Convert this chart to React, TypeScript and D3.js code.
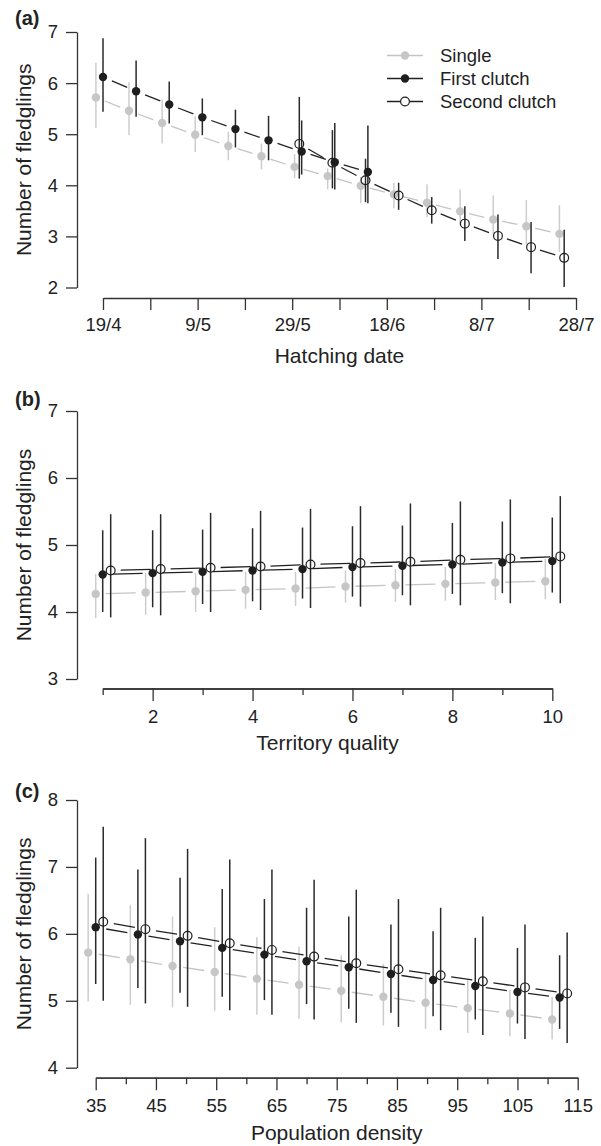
import React, { useRef, useEffect } from 'react'
import * as d3 from 'd3'

// ---- (a) hatching date: x = days after 19 April ----
const hatchTickStart = Date.UTC(2009, 3, 19)
const hatchTickEnd = Date.UTC(2009, 6, 28)

const aSingleDay = [-1.5, 5.5, 12.5, 19.5, 26.5, 33.5, 40.5, 47.5, 54.5, 61.5, 68.5, 75.5, 82.5, 89.5, 96.5]
const aSingleMean = [5.72, 5.46, 5.22, 4.99, 4.77, 4.57, 4.36, 4.18, 3.99, 3.82, 3.66, 3.49, 3.33, 3.2, 3.05]
const aSingleLo = [5.12, 4.98, 4.82, 4.65, 4.49, 4.31, 4.14, 3.92, 3.65, 3.55, 3.38, 3.22, 3.05, 2.85, 2.7]
const aSingleHi = [6.4, 6.02, 5.68, 5.35, 5.05, 4.82, 4.61, 4.33, 4.16, 4.05, 4.02, 3.92, 3.8, 3.71, 3.61]

const aFirstDay = [0, 7, 14, 21, 28, 35, 42, 49, 56]
const aFirstMean = [6.12, 5.84, 5.58, 5.33, 5.1, 4.88, 4.66, 4.45, 4.26]
const aFirstLo = [5.44, 5.34, 5.21, 4.98, 4.74, 4.49, 4.21, 3.92, 3.65]
const aFirstHi = [6.88, 6.44, 6.03, 5.7, 5.48, 5.36, 5.27, 5.22, 5.17]

const aSecondDay = [41.5, 48.5, 55.5, 62.5, 69.5, 76.5, 83.5, 90.5, 97.5]
const aSecondMean = [4.81, 4.44, 4.1, 3.8, 3.51, 3.25, 3.01, 2.79, 2.58]
const aSecondLo = [4.13, 3.94, 3.67, 3.52, 3.25, 2.91, 2.56, 2.28, 2.01]
const aSecondHi = [5.73, 5.08, 4.52, 4.05, 3.77, 3.59, 3.43, 3.28, 3.13]

// ---- (b) territory quality ----
const bSingleX = [0.86, 1.86, 2.86, 3.86, 4.86, 5.86, 6.86, 7.86, 8.86, 9.86]
const bSingleMean = [4.27, 4.29, 4.31, 4.33, 4.35, 4.38, 4.4, 4.42, 4.44, 4.46]
const bSingleLo = [3.91, 3.96, 4.0, 4.05, 4.09, 4.14, 4.15, 4.17, 4.18, 4.19]
const bSingleHi = [4.57, 4.58, 4.58, 4.6, 4.6, 4.62, 4.64, 4.67, 4.73, 4.79]

const bFirstX = [1, 2, 3, 4, 5, 6, 7, 8, 9, 10]
const bFirstMean = [4.56, 4.58, 4.6, 4.62, 4.64, 4.67, 4.69, 4.71, 4.74, 4.76]
const bFirstLo = [4.0, 4.07, 4.12, 4.16, 4.2, 4.23, 4.25, 4.27, 4.28, 4.29]
const bFirstHi = [5.22, 5.22, 5.23, 5.25, 5.26, 5.28, 5.29, 5.33, 5.35, 5.41]

const bSecondX = [1.16, 2.16, 3.16, 4.16, 5.16, 6.16, 7.16, 8.16, 9.16, 10.16]
const bSecondMean = [4.62, 4.64, 4.66, 4.68, 4.71, 4.73, 4.75, 4.78, 4.8, 4.83]
const bSecondLo = [3.92, 3.95, 4.0, 4.03, 4.06, 4.08, 4.1, 4.1, 4.13, 4.13]
const bSecondHi = [5.46, 5.46, 5.48, 5.51, 5.54, 5.58, 5.62, 5.65, 5.68, 5.73]

// ---- (c) population density ----
const cSingleX = [33.75, 40.75, 47.75, 54.75, 61.75, 68.75, 75.75, 82.75, 89.75, 96.75, 103.75, 110.75]
const cSingleMean = [5.72, 5.62, 5.52, 5.43, 5.33, 5.24, 5.15, 5.06, 4.97, 4.89, 4.81, 4.72]
const cSingleLo = [4.99, 4.94, 4.9, 4.85, 4.79, 4.73, 4.68, 4.63, 4.58, 4.52, 4.47, 4.42]
const cSingleHi = [6.6, 6.43, 6.26, 6.1, 5.95, 5.81, 5.68, 5.55, 5.43, 5.31, 5.16, 5.06]

const cFirstX = [35, 42, 49, 56, 63, 70, 77, 84, 91, 98, 105, 112]
const cFirstMean = [6.1, 5.99, 5.89, 5.79, 5.69, 5.59, 5.5, 5.4, 5.31, 5.22, 5.13, 5.05]
const cFirstLo = [5.25, 5.19, 5.12, 5.06, 5.01, 4.95, 4.88, 4.82, 4.77, 4.72, 4.66, 4.58]
const cFirstHi = [7.14, 6.96, 6.84, 6.67, 6.52, 6.39, 6.26, 6.14, 6.04, 5.94, 5.79, 5.68]

const cSecondX = [36.25, 43.25, 50.25, 57.25, 64.25, 71.25, 78.25, 85.25, 92.25, 99.25, 106.25, 113.25]
const cSecondMean = [6.18, 6.07, 5.97, 5.86, 5.76, 5.66, 5.56, 5.47, 5.38, 5.29, 5.2, 5.11]
const cSecondLo = [5.0, 4.96, 4.91, 4.86, 4.79, 4.72, 4.67, 4.61, 4.56, 4.49, 4.43, 4.37]
const cSecondHi = [7.6, 7.43, 7.27, 7.11, 6.96, 6.81, 6.66, 6.52, 6.39, 6.26, 6.14, 6.02]

const legendLabels = ['Single', 'First clutch', 'Second clutch']
const yTitle = 'Number of fledglings'

const FONT = '"Liberation Sans", Arial, Helvetica, sans-serif'
const INK = '#1e1e1e'
const AXIS = '#333333'
const TEXT = '#222222'
const GREY_PT = '#c6c6c6'
const GREY_BAR = '#cdcdcd'
const GREY_LINE = '#c4c4c4'
const TICK_FS = 18.5
const TITLE_FS = 21

function styleAxis(sel) {
  sel.attr('font-size', TICK_FS).attr('font-family', FONT)
  sel.select('.domain').attr('stroke', AXIS).attr('stroke-width', 1.3)
  sel.selectAll('.tick line').attr('stroke', AXIS).attr('stroke-width', 1.3)
  sel.selectAll('.tick text').attr('fill', TEXT)
}

function drawSeries(g, s, x, y, dash) {
  const pts = s.x.map((v, i) => ({
    x: x(v),
    m: y(s.mean[i]),
    lo: y(s.lo[i]),
    hi: y(s.hi[i])
  }))
  const single = s.kind === 'single'

  g.append('g')
    .selectAll('line')
    .data(pts)
    .join('line')
    .attr('x1', d => d.x)
    .attr('x2', d => d.x)
    .attr('y1', d => d.lo)
    .attr('y2', d => d.hi)
    .attr('stroke', single ? GREY_BAR : '#2a2a2a')
    .attr('stroke-width', 1.5)

  // one dash between each pair of neighbouring points
  g.append('g')
    .selectAll('path')
    .data(d3.pairs(pts))
    .join('path')
    .attr('d', ([a, b]) => `M${a.x},${a.m}L${b.x},${b.m}`)
    .attr('pathLength', 100)
    .attr('stroke-dasharray', dash)
    .attr('fill', 'none')
    .attr('stroke', single ? GREY_LINE : '#222')
    .attr('stroke-width', 1.3)

  g.append('g')
    .selectAll('circle')
    .data(pts)
    .join('circle')
    .attr('cx', d => d.x)
    .attr('cy', d => d.m)
    .attr('r', s.kind === 'second' ? 4.4 : 4.2)
    .attr('fill', s.kind === 'second' ? 'none' : single ? GREY_PT : INK)
    .attr('stroke', s.kind === 'second' ? INK : 'none')
    .attr('stroke-width', 1.2)
}

function drawPanel(svg, p) {
  const g = svg.append('g')

  g.append('g')
    .attr('transform', `translate(${p.axisX},0)`)
    .call(
      d3
        .axisLeft(p.y)
        .tickValues(p.yTicks)
        .tickFormat(d3.format('d'))
        .tickSize(11)
        .tickPadding(8)
        .tickSizeOuter(0)
    )
    .call(styleAxis)

  if (p.xMinor) {
    g.append('g')
      .attr('transform', `translate(0,${p.axisY})`)
      .call(d3.axisBottom(p.x).tickValues(p.xMinor).tickSize(6.5).tickFormat(() => '').tickSizeOuter(0))
      .call(styleAxis)
  }
  g.append('g')
    .attr('transform', `translate(0,${p.axisY})`)
    .call(
      d3
        .axisBottom(p.x)
        .tickValues(p.xTicks)
        .tickSize(p.majorTick)
        .tickPadding(p.pad)
        .tickFormat(p.fmt)
        .tickSizeOuter(0)
    )
    .call(styleAxis)

  p.series.forEach(s => drawSeries(g, s, p.xv, p.y, p.dash))

  g.append('text')
    .attr('x', 15)
    .attr('y', p.tagY)
    .attr('font-family', FONT)
    .attr('font-weight', 'bold')
    .attr('font-size', 20)
    .attr('fill', TEXT)
    .text(p.tag)

  const [y0, y1] = p.y.range()
  g.append('text')
    .attr('transform', `translate(31,${(y0 + y1) / 2}) rotate(-90)`)
    .attr('text-anchor', 'middle')
    .attr('font-family', FONT)
    .attr('font-size', TITLE_FS)
    .attr('fill', TEXT)
    .text(yTitle)

  const [x0, x1] = p.x.range()
  g.append('text')
    .attr('x', (x0 + x1) / 2)
    .attr('y', p.titleY)
    .attr('text-anchor', 'middle')
    .attr('font-family', FONT)
    .attr('font-size', TITLE_FS)
    .attr('fill', TEXT)
    .text(p.title)
}

function drawLegend(svg) {
  const rows = [
    { kind: 'single', y: 55.5 },
    { kind: 'first', y: 78.5 },
    { kind: 'second', y: 101.5 }
  ]
  const lg = svg.append('g')
  rows.forEach((r, i) => {
    const col = r.kind === 'single' ? GREY_PT : INK
    lg.append('line')
      .attr('x1', 387)
      .attr('x2', 423)
      .attr('y1', r.y)
      .attr('y2', r.y)
      .attr('stroke', r.kind === 'single' ? GREY_LINE : '#222')
      .attr('stroke-width', 1.3)
    lg.append('circle')
      .attr('cx', 405)
      .attr('cy', r.y)
      .attr('r', r.kind === 'second' ? 4.4 : 4.2)
      .attr('fill', r.kind === 'second' ? 'white' : col)
      .attr('stroke', r.kind === 'second' ? INK : 'none')
      .attr('stroke-width', 1.2)
    lg.append('text')
      .attr('x', 440)
      .attr('y', r.y)
      .attr('dy', '0.35em')
      .attr('font-family', FONT)
      .attr('font-size', TICK_FS)
      .attr('fill', TEXT)
      .text(legendLabels[i])
  })
}

export default function App() {
  const ref = useRef(null)

  useEffect(() => {
    document.body.style.margin = '0'
    const svg = d3.select(ref.current)
    svg.selectAll('*').remove()

    // (a)
    const xa = d3
      .scaleUtc()
      .domain([new Date(hatchTickStart), new Date(hatchTickEnd)])
      .range([103, 576])
    const dayDate = d => new Date(hatchTickStart + d * 864e5)
    const ya = d3.scaleLinear().domain([2, 7]).range([287.5, 32])
    const dateFmt = d3.utcFormat('%-d/%-m')
    drawPanel(svg, {
      x: xa,
      xv: d => xa(dayDate(d)),
      y: ya,
      yTicks: [2, 3, 4, 5, 6, 7],
      xTicks: d3.utcDay.range(new Date(hatchTickStart), new Date(hatchTickEnd + 864e5), 10),
      fmt: (d, i) => (i % 2 ? '' : dateFmt(d)),
      majorTick: 12,
      pad: 7.5,
      axisX: 77,
      axisY: 298,
      dash: '0 27 46 27',
      tag: '(a)',
      tagY: 24.5,
      title: 'Hatching date',
      titleY: 363,
      series: [
        { kind: 'single', x: aSingleDay, mean: aSingleMean, lo: aSingleLo, hi: aSingleHi },
        { kind: 'second', x: aSecondDay, mean: aSecondMean, lo: aSecondLo, hi: aSecondHi },
        { kind: 'first', x: aFirstDay, mean: aFirstMean, lo: aFirstLo, hi: aFirstHi }
      ]
    })
    drawLegend(svg)

    // (b)
    const xb = d3.scaleLinear().domain([1, 10]).range([102.7, 552.3])
    const yb = d3.scaleLinear().domain([3, 7]).range([679, 411])
    drawPanel(svg, {
      x: xb,
      xv: xb,
      y: yb,
      yTicks: [3, 4, 5, 6, 7],
      xTicks: [2, 4, 6, 8, 10],
      xMinor: [1, 3, 5, 7, 9],
      fmt: d3.format('d'),
      majorTick: 12.5,
      pad: 8.5,
      axisX: 77,
      axisY: 688.5,
      dash: '0 20 60 20',
      tag: '(b)',
      tagY: 406,
      title: 'Territory quality',
      titleY: 750,
      series: [
        { kind: 'single', x: bSingleX, mean: bSingleMean, lo: bSingleLo, hi: bSingleHi },
        { kind: 'second', x: bSecondX, mean: bSecondMean, lo: bSecondLo, hi: bSecondHi },
        { kind: 'first', x: bFirstX, mean: bFirstMean, lo: bFirstLo, hi: bFirstHi }
      ]
    })

    // (c)
    const xc = d3.scaleLinear().domain([35, 115]).range([95.7, 577.7])
    const yc = d3.scaleLinear().domain([4, 8]).range([1067.7, 800])
    drawPanel(svg, {
      x: xc,
      xv: xc,
      y: yc,
      yTicks: [4, 5, 6, 7, 8],
      xTicks: d3.range(35, 116, 10),
      xMinor: d3.range(40, 115, 10),
      fmt: d3.format('d'),
      majorTick: 12.5,
      pad: 8.5,
      axisX: 77,
      axisY: 1077.7,
      dash: '0 25 50 25',
      tag: '(c)',
      tagY: 797.5,
      title: 'Population density',
      titleY: 1140,
      series: [
        { kind: 'single', x: cSingleX, mean: cSingleMean, lo: cSingleLo, hi: cSingleHi },
        { kind: 'second', x: cSecondX, mean: cSecondMean, lo: cSecondLo, hi: cSecondHi },
        { kind: 'first', x: cFirstX, mean: cFirstMean, lo: cFirstLo, hi: cFirstHi }
      ]
    })
  }, [])

  return <svg ref={ref} width={601} height={1146} style={{ display: 'block', background: 'white' }} />
}
